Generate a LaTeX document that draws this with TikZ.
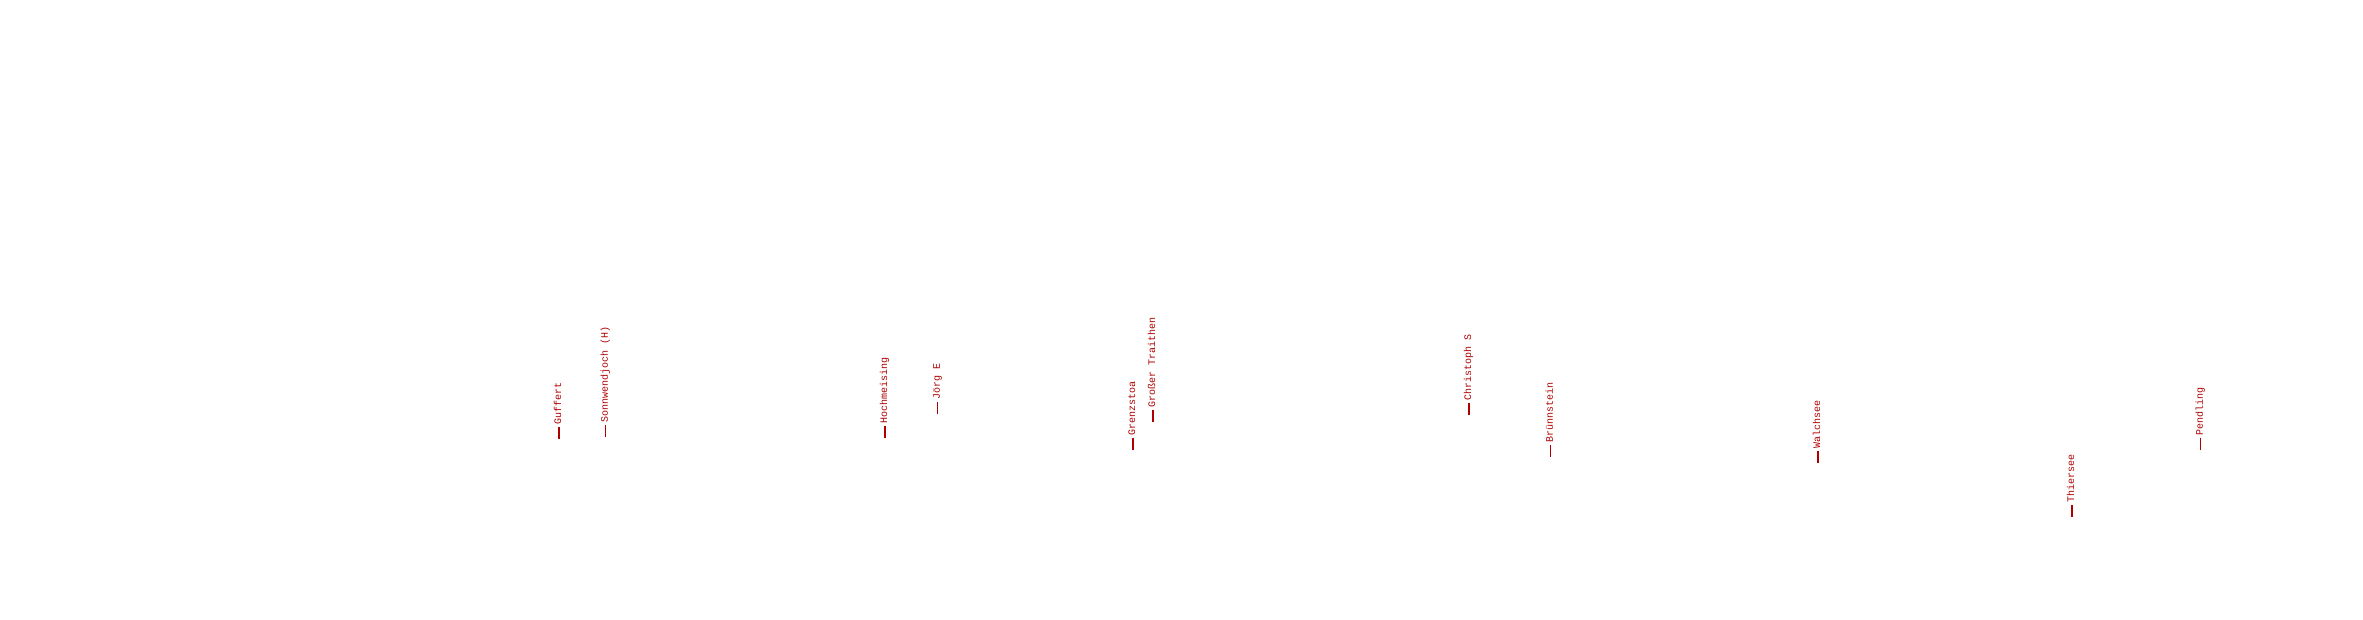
\documentclass[tikz,border=0pt]{standalone}
\usepackage{fontspec}
\newfontfamily\lblfont{Liberation Mono}
\definecolor{peakred}{RGB}{175,0,0}
\tikzset{
  x=1pt, y=-1pt,
  tick/.style={draw=peakred, line width=1.1pt},
  lbl/.style={text=peakred, font=\lblfont\fontsize{10}{12}\selectfont, rotate=90, anchor=mid west, inner sep=0pt}
}
\newcommand\peaklabel[4]{%
  \coordinate (#1b) at (#2,#3);
  \coordinate (#1t) at (#2,#3-12);
  \draw[tick] (#1b) -- (#1t);
  \node[lbl] (#1) at ([yshift=2pt]#1t) {#4};
}
\begin{document}
\begin{tikzpicture}
\useasboundingbox (0,0) rectangle (2363,620);
\peaklabel{guf}{559}{439}{Guffert}
\peaklabel{son}{605.7}{437}{Sonnwendjoch (H)}
\peaklabel{hoc}{885}{438}{Hochmeising}
\peaklabel{jor}{937.7}{414}{Jörg E}
\peaklabel{gre}{1133}{450}{Grenzstoa}
\peaklabel{gro}{1153}{422}{Großer Traithen}
\peaklabel{chr}{1469}{415}{Christoph S}
\peaklabel{bru}{1550.7}{457}{Brünnstein}
\peaklabel{wal}{1818}{463}{Walchsee}
\peaklabel{thi}{2072}{517}{Thiersee}
\peaklabel{pen}{2200.7}{450}{Pendling}
\end{tikzpicture}
\end{document}
